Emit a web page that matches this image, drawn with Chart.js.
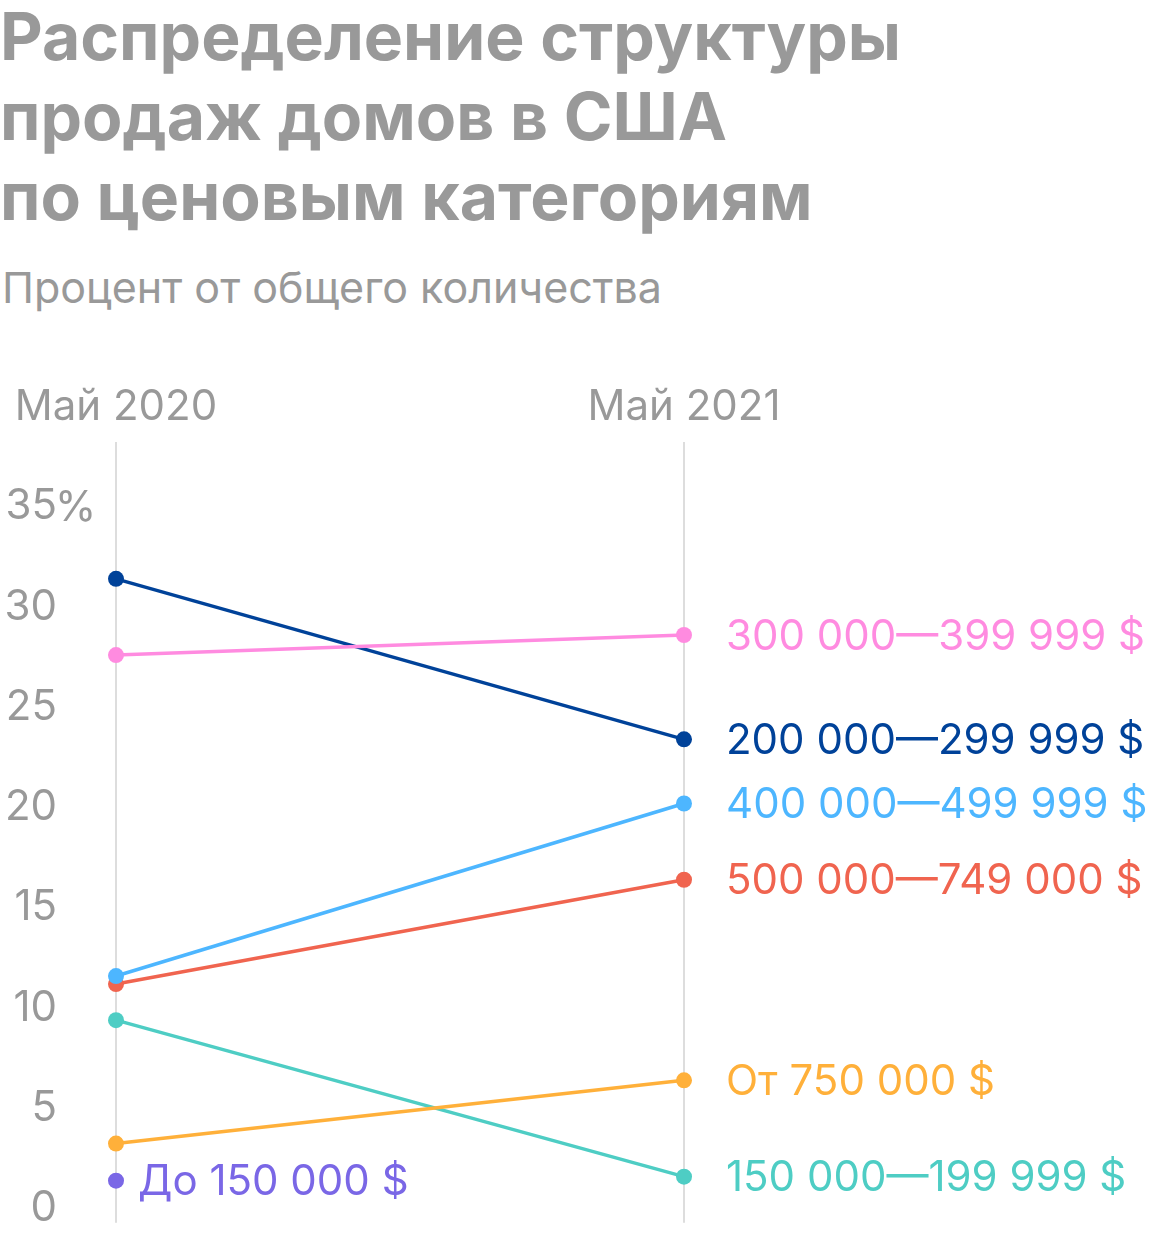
<!DOCTYPE html>
<html>
<head>
<meta charset="utf-8">
<script src="https://cdn.jsdelivr.net/npm/chart.js@4.4.0/dist/chart.umd.min.js"></script>
<style>
  body { margin: 0; background: #fff; }
  #wrap { position: relative; width: 1160px; height: 1240px; overflow: hidden; font-family: Inter, sans-serif; }
  h1 { position: absolute; left: 0; top: -4px; margin: 0; font-size: 66px; line-height: 80px; font-weight: 700; color: #999999; }
  .sub { position: absolute; left: 2px; top: 261px; font-size: 43px; color: #999999; }
  #box { position: absolute; left: 0; top: 372px; width: 1160px; height: 876px; }
</style>
</head>
<body>
<div id="wrap">
  <h1>Распределение структуры<br>продаж домов в США<br>по ценовым категориям</h1>
  <div class="sub">Процент от общего количества</div>
  <div id="box"><canvas id="chart"></canvas></div>
</div>
<script>
// data
const periods = ['Май 2020', 'Май 2021'];
const yTicks = [0, 5, 10, 15, 20, 25, 30, 35];

const seriesNames = [
  '300 000—399 999 $',
  '200 000—299 999 $',
  '400 000—499 999 $',
  '500 000—749 000 $',
  'От 750 000 $',
  '150 000—199 999 $',
  'До 150 000 $'
];
const v300 = [27.6, 28.6];
const v200 = [31.4, 23.4];
const v400 = [11.6, 20.2];
const v500 = [11.2, 16.4];
const v750 = [3.25, 6.4];
const v150 = [9.4, 1.6];
const vUnder150 = [1.4, null];

const colors = ['#ff8be0', '#004299', '#4db6ff', '#f0644f', '#ffb03a', '#4ecdc4', '#7a67e6'];
const seriesValues = [v300, v200, v400, v500, v750, v150, vUnder150];

const FONT = 'Inter, sans-serif';
const GREY = '#999999';

// series names next to their last point, plus the % after the top tick
const extraText = {
  id: 'extraText',
  afterDatasetsDraw(chart) {
    const ctx = chart.ctx;
    ctx.save();
    ctx.font = '42px ' + FONT;
    ctx.textBaseline = 'middle';
    ctx.textAlign = 'left';
    chart.data.datasets.forEach((ds, i) => {
      const meta = chart.getDatasetMeta(i);
      let idx = ds.data.length - 1;
      while (idx >= 0 && ds.data[idx] == null) idx--;
      const pt = meta.data[idx];
      const gap = idx === ds.data.length - 1 ? 42 : 22;
      ctx.fillStyle = ds.borderColor;
      ctx.fillText(ds.label, pt.x + gap, pt.y + 2);
    });
    // percent sign hanging after the "35" tick
    const y = chart.scales.y;
    const last = yTicks[yTicks.length - 1];
    ctx.fillStyle = GREY;
    ctx.fillText('%', 55, y.getPixelForValue(last) + 2);
    ctx.restore();
  }
};

new Chart(document.getElementById('chart'), {
  type: 'line',
  data: {
    labels: periods,
    datasets: seriesNames.map((name, i) => ({
      label: name,
      data: seriesValues[i],
      borderColor: colors[i],
      backgroundColor: colors[i],
      borderWidth: 3.5,
      pointRadius: 8,
      pointHoverRadius: 8,
      pointBorderWidth: 0,
      tension: 0,
      spanGaps: false
    }))
  },
  options: {
    responsive: true,
    maintainAspectRatio: false,
    animation: false,
    layout: { padding: { left: 4, right: 476, top: 0, bottom: 0 } },
    plugins: { legend: { display: false }, tooltip: { enabled: false } },
    scales: {
      x: {
        position: 'top',
        offset: false,
        border: { display: false },
        grid: { color: '#dddddd', lineWidth: 2, drawTicks: false },
        ticks: { color: GREY, font: { family: FONT, size: 42 }, padding: 10, maxRotation: 0, autoSkip: false }
      },
      y: {
        min: -0.7,
        max: 38.2,
        border: { display: false },
        grid: { display: false, drawTicks: true, tickLength: 59 },
        afterBuildTicks: axis => { axis.ticks = yTicks.map(v => ({ value: v })); },
        afterFit: axis => { axis.width = 112; },
        ticks: {
          color: GREY,
          font: { family: FONT, size: 42 },
          crossAlign: 'near',
          padding: 0
        }
      }
    }
  },
  plugins: [extraText]
});
</script>
</body>
</html>
